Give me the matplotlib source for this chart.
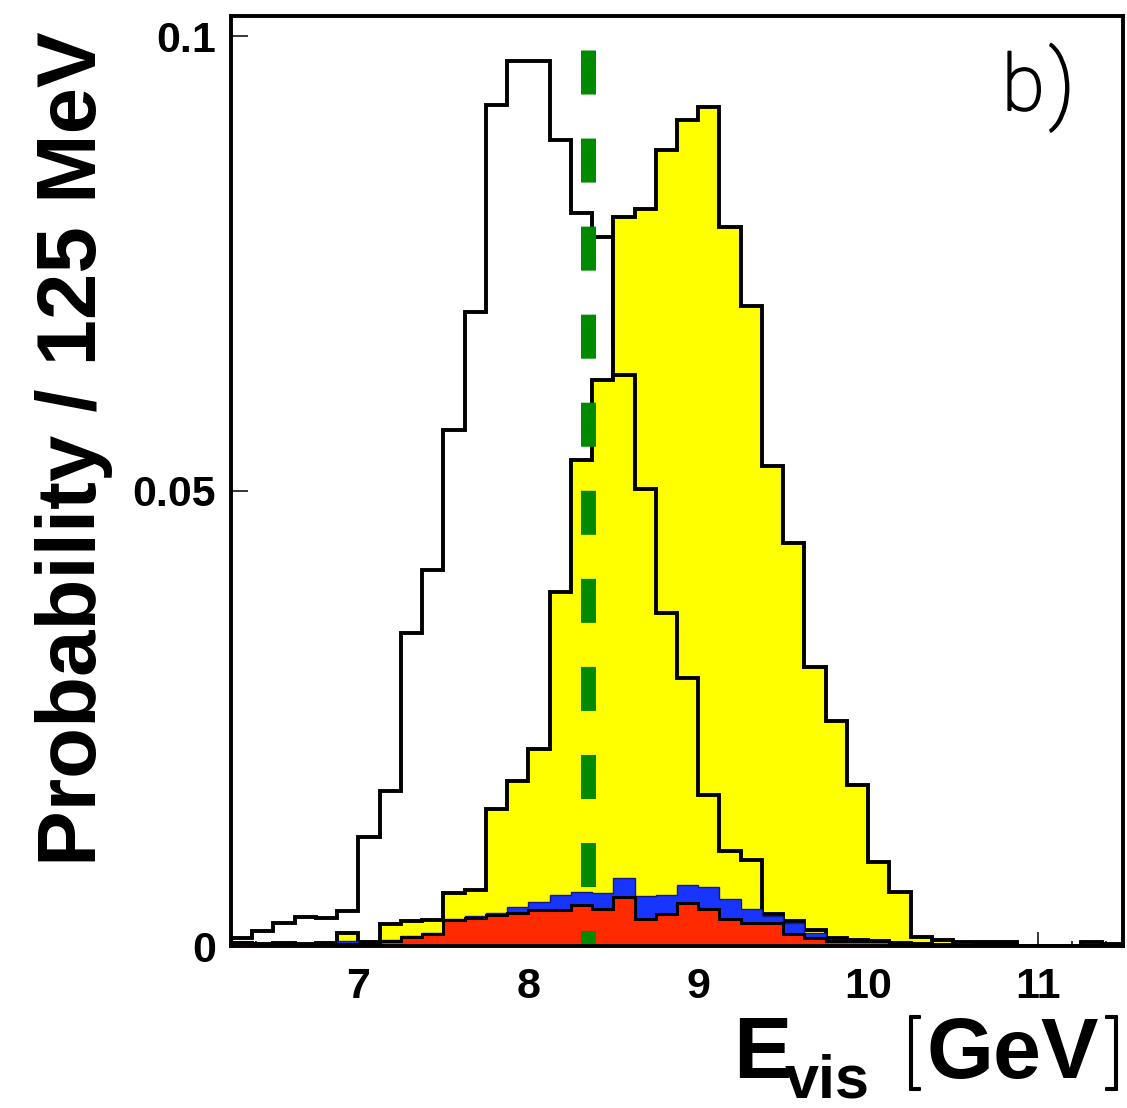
import numpy as np
import matplotlib
matplotlib.use("Agg")
import matplotlib.pyplot as plt
import matplotlib.patheffects as pe
from matplotlib.ticker import FixedLocator, MultipleLocator

# ---------------- data ----------------
bin_edges = np.arange(6.25, 11.5 + 1e-9, 0.125)   # 42 bins of 125 MeV

# open (white) histogram, peak near 8 GeV
white = [0.0009, 0.0017, 0.0025, 0.0032, 0.0031, 0.0038, 0.0120, 0.0170,
         0.0344, 0.0413, 0.0567, 0.0697, 0.0924, 0.0973, 0.0972, 0.0886,
         0.0805, 0.0779, 0.0660, 0.0550, 0.0420, 0.0310, 0.0210, 0.0130,
         0.0080, 0.0050, 0.0030, 0.0020, 0.0012, 0.0008, 0.0005, 0.0003,
         0.0002, 0.0, 0.0, 0.0, 0.0, 0.0, 0.0, 0.0, 0.0, 0.0]

# yellow histogram, peak near 9 GeV
yellow_high = [0.0, 0.0, 0.0, 0.0, 0.0, 0.0, 0.0, 0.0,
               0.0, 0.0, 0.0005, 0.0010, 0.0020, 0.0040, 0.0070, 0.0120,
               0.0250, 0.0450, 0.0801, 0.0810, 0.0875, 0.0908, 0.0922, 0.0790,
               0.0703, 0.0527, 0.0443, 0.0307, 0.0247, 0.0177, 0.0092, 0.0059,
               0.00095, 0.00066, 0.0004, 0.0004, 0.0004, 0.0, 0.0, 0.0,
               0.0004, 0.0002]

# yellow histogram, peak near 8.5 GeV
yellow_mid = [0.0003, 0.0002, 0.0003, 0.0002, 0.0003, 0.0014, 0.0004, 0.0024,
              0.0027, 0.0029, 0.0058, 0.0061, 0.0151, 0.0181, 0.0217, 0.0389,
              0.0534, 0.0622, 0.0627, 0.0502, 0.0366, 0.0294, 0.0166, 0.0104,
              0.0094, 0.0035, 0.0027, 0.0018, 0.0009, 0.0007, 0.0005, 0.0003,
              0.0002, 0.0001, 0.0, 0.0, 0.0, 0.0, 0.0, 0.0, 0.0, 0.0]

# stacked backgrounds: red (bottom) and blue (on top of red)
red = [0.0004, 0.0001, 0.0001, 0.0001, 0.0001, 0.0002, 0.0002, 0.0006,
       0.0010, 0.0013, 0.0029, 0.0031, 0.0034, 0.0036, 0.0040, 0.0040,
       0.0045, 0.0041, 0.0054, 0.0030, 0.0035, 0.0047, 0.0041, 0.0030,
       0.0025, 0.0025, 0.0013, 0.0009, 0.0005, 0.0005, 0.0005, 0.0002,
       0.0002, 0.0001, 0.0001, 0.0003, 0.0002, 0.0, 0.0, 0.0, 0.0, 0.0]
blue = [0.0, 0.0, 0.0, 0.0, 0.0, 0.0003, 0.0, 0.0001,
        0.0001, 0.0001, 0.0001, 0.0002, 0.0002, 0.0007, 0.0008, 0.0016,
        0.0014, 0.0017, 0.0021, 0.0025, 0.0021, 0.0020, 0.0024, 0.0022,
        0.0016, 0.0008, 0.0012, 0.0005, 0.0002, 0.0001, 0.0, 0.0,
        0.0, 0.0, 0.0, 0.0, 0.0, 0.0, 0.0, 0.0, 0.0, 0.0]

cut_energy = 8.35
cut_line_top = 0.0985

xtick_values = [7, 8, 9, 10, 11]
xtick_labels = ["7", "8", "9", "10", "11"]
ytick_values = [0, 0.05, 0.1]
ytick_labels = ["0", "0.05", "0.1"]

# ---------------- figure ----------------
W, H = 1127, 1108
plt.rcParams['lines.scale_dashes'] = False
fig = plt.figure(figsize=(W / 100, H / 100), dpi=100)

def fx(px):
    return px / W

def fy(py):
    return 1 - py / H

ax = fig.add_axes([fx(231), fy(946), fx(1123) - fx(231), fy(16) - fy(946)])
ax.set_xlim(6.25, 11.5)
ax.set_ylim(0, (946 - 16) / 9100)

LW = 2.8
ax.stairs(white, bin_edges, color="black", lw=LW, zorder=1)
ax.stairs(yellow_high, bin_edges, fill=True, facecolor="#ffff00",
          edgecolor="none", zorder=2)
ax.stairs(yellow_high, bin_edges, color="black", lw=LW, zorder=2.1)
ax.stairs(yellow_mid, bin_edges, fill=True, facecolor="#ffff00",
          edgecolor="none", zorder=3)
ax.stairs(yellow_mid, bin_edges, color="black", lw=LW, zorder=3.1)

red_arr = np.array(red)
stack_top = red_arr + np.array(blue)
ax.stairs(stack_top, bin_edges, baseline=red_arr, fill=True,
          facecolor="#1835ff", edgecolor="none", zorder=4)
ax.stairs(stack_top, bin_edges, color="#101a80", lw=1.0, zorder=4.1)
ax.stairs(red_arr, bin_edges, fill=True, facecolor="#ff2a00",
          edgecolor="none", zorder=5)
ax.stairs(red_arr, bin_edges, color="black", lw=2.2, zorder=5.1)

ax.plot([cut_energy, cut_energy], [cut_line_top, 0], color="#008a00",
        lw=10.8, linestyle=(0, (31.7, 31.7)), solid_capstyle="butt",
        dash_capstyle="butt", zorder=6)

for s in ax.spines.values():
    s.set_linewidth(2.8)
    s.set_zorder(10)

tick_font = dict(family="Liberation Sans", weight="bold", size=31)
ax.xaxis.set_major_locator(FixedLocator(xtick_values))
ax.set_xticklabels(xtick_labels, fontdict=tick_font)
ax.xaxis.set_minor_locator(MultipleLocator(0.2))
ax.yaxis.set_major_locator(FixedLocator(ytick_values))
ax.set_yticklabels(ytick_labels, fontdict=tick_font)
ax.tick_params(axis="x", which="major", direction="in", length=10, width=1.1,
               pad=15, top=False)
ax.tick_params(axis="x", which="minor", direction="in", length=3.6, width=1.1,
               top=False)
ax.tick_params(axis="y", which="major", direction="in", length=12, width=1.1,
               pad=11, right=False)
ax.tick_params(axis="y", which="minor", left=False, right=False)

# y axis title
fig.text(fx(74), fy(449), "Probability / 125 MeV", rotation=90,
         ha="center", va="center", family="Liberation Sans", weight="bold",
         size=60)

# x axis title pieces
thin = ["Roboto", "DejaVu Sans"]
thicken = [pe.withStroke(linewidth=1.5, foreground="black")]
fig.text(fx(733), fy(1078), "E", ha="left", va="baseline",
         family="Liberation Sans", weight="bold", size=63)
fig.text(fx(785), fy(1097), "vis", ha="left", va="baseline",
         family="Liberation Sans", weight="bold", size=44)
fig.text(fx(903), fy(1078), "[", ha="left", va="baseline",
         family=thin, weight="light", size=55, path_effects=thicken)
fig.text(fx(926), fy(1078), "GeV", ha="left", va="baseline",
         family="Liberation Sans", weight="bold", size=62)
fig.text(fx(1123), fy(1078), "]", ha="right", va="baseline",
         family=thin, weight="light", size=55, path_effects=thicken)

# panel label "b)"
fig.text(fx(1002), fy(110), "b", ha="left", va="baseline",
         family=thin, weight="light", size=56, path_effects=thicken)
fig.text(fx(1049), fy(112), ")", ha="left", va="baseline",
         family=thin, weight="light", size=62, path_effects=thicken)

fig.savefig("out.png", dpi=100)
